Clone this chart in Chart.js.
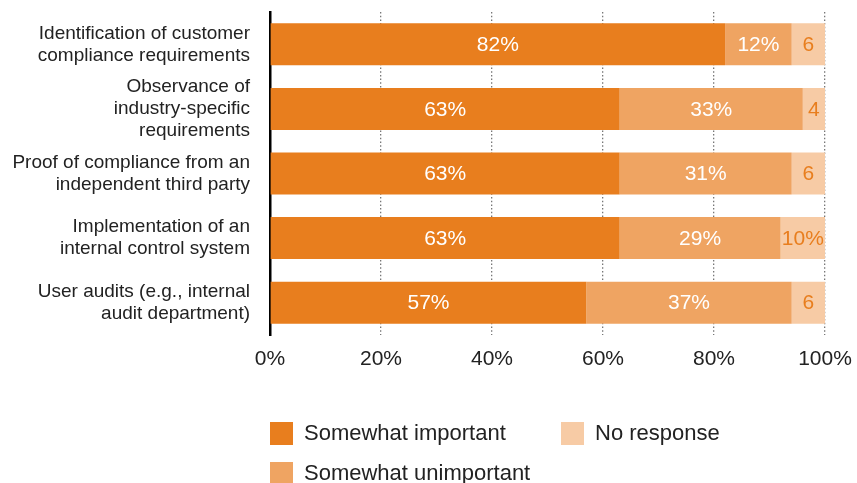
<!DOCTYPE html>
<html>
<head>
<meta charset="utf-8">
<script src="https://cdn.jsdelivr.net/npm/chart.js@4.4.1/dist/chart.umd.min.js"></script>
<style>
    html, body { margin: 0; padding: 0; background: #fff; }
    #wrap { position: relative; width: 857px; height: 483px; font-family: "Liberation Sans", Arial, sans-serif; color: #222; }
    #importanceChart { position: absolute; left: 0; top: 0; }
    .key { position: absolute; display: flex; align-items: center; font-size: 22px; white-space: nowrap; }
    .key span.box { display: inline-block; width: 23px; height: 23px; margin-right: 11px; }
</style>
</head>
<body>
<div id="wrap">
    <canvas id="importanceChart" width="857" height="483"></canvas>
    <div class="key" style="left:270px; top:420px;"><span class="box" style="background:#E87E1E"></span>Somewhat important</div>
    <div class="key" style="left:561px; top:420px;"><span class="box" style="background:#F7CBA5"></span>No response</div>
    <div class="key" style="left:270px; top:460px;"><span class="box" style="background:#EFA462"></span>Somewhat unimportant</div>
</div>
<script>
var categories = [
    ["Identification of customer", "compliance requirements"],
    ["Observance of", "industry-specific", "requirements"],
    ["Proof of compliance from an", "independent third party"],
    ["Implementation of an", "internal control system"],
    ["User audits (e.g., internal", "audit department)"]
];
var somewhatImportant = [82, 63, 63, 63, 57];
var somewhatUnimportant = [12, 33, 31, 29, 37];
var noResponse = [6, 4, 6, 10, 6];
var xTicks = [0, 20, 40, 60, 80, 100];

var darkOrange = "#E87E1E";
var midOrange = "#EFA462";
var lightOrange = "#F7CBA5";

// writes the value in the middle of the visible part of each segment
var segmentLabels = {
    id: "segmentLabels",
    afterDatasetsDraw: function(chart) {
        var ctx = chart.ctx;
        var area = chart.chartArea;
        ctx.save();
        ctx.font = "21px 'Liberation Sans', Arial, sans-serif";
        ctx.textAlign = "center";
        ctx.textBaseline = "middle";
        chart.data.datasets.forEach(function(ds, di) {
            chart.getDatasetMeta(di).data.forEach(function(bar, i) {
                var v = ds.data[i];
                var left = Math.max(bar.base, area.left);
                var right = Math.min(bar.x, area.right);
                var text = (di === 2 && v < 10) ? String(v) : v + "%";
                ctx.fillStyle = di === 2 ? darkOrange : "#ffffff";
                ctx.fillText(text, (left + right) / 2, bar.y + 1);
            });
        });
        ctx.restore();
    }
};

var chart = new Chart(document.getElementById("importanceChart"), {
    type: "bar",
    data: {
        labels: categories,
        datasets: [
            {label: "Somewhat important", data: somewhatImportant, backgroundColor: darkOrange},
            {label: "Somewhat unimportant", data: somewhatUnimportant, backgroundColor: midOrange},
            {label: "No response", data: noResponse, backgroundColor: lightOrange}
        ]
    },
    options: {
        indexAxis: "y",
        responsive: false,
        animation: false,
        barPercentage: 0.65,
        categoryPercentage: 1,
        layout: {padding: {top: 12, right: 0}},
        plugins: {legend: {display: false}, tooltip: {enabled: false}},
        scales: {
            x: {
                stacked: true,
                min: 0,
                max: 100,
                afterBuildTicks: function(scale) {
                    scale.ticks = xTicks.map(function(v) { return {value: v}; });
                },
                afterFit: function(scale) {
                    scale.height = 148;
                    scale.paddingRight = 32;
                },
                grid: {
                    drawTicks: false,
                    lineWidth: 1.3,
                    color: function(c) { return c.index === 0 ? "rgba(0,0,0,0)" : "#777"; }
                },
                border: {display: false, dash: [1.5, 2.2]},
                ticks: {
                    padding: 12,
                    color: "#222",
                    font: {family: "'Liberation Sans', Arial, sans-serif", size: 21},
                    callback: function(v) { return v + "%"; }
                }
            },
            y: {
                stacked: true,
                afterFit: function(scale) {
                    scale.width = 270;
                    scale.paddingTop = 0;
                    scale.paddingBottom = 0;
                },
                grid: {display: false, drawTicks: false},
                border: {display: true, color: "#000", width: 2.5},
                ticks: {
                    autoSkip: false,
                    padding: 20,
                    color: "#222",
                    font: {family: "'Liberation Sans', Arial, sans-serif", size: 19, lineHeight: 1.16}
                }
            }
        }
    },
    plugins: [segmentLabels]
});
</script>
</body>
</html>
